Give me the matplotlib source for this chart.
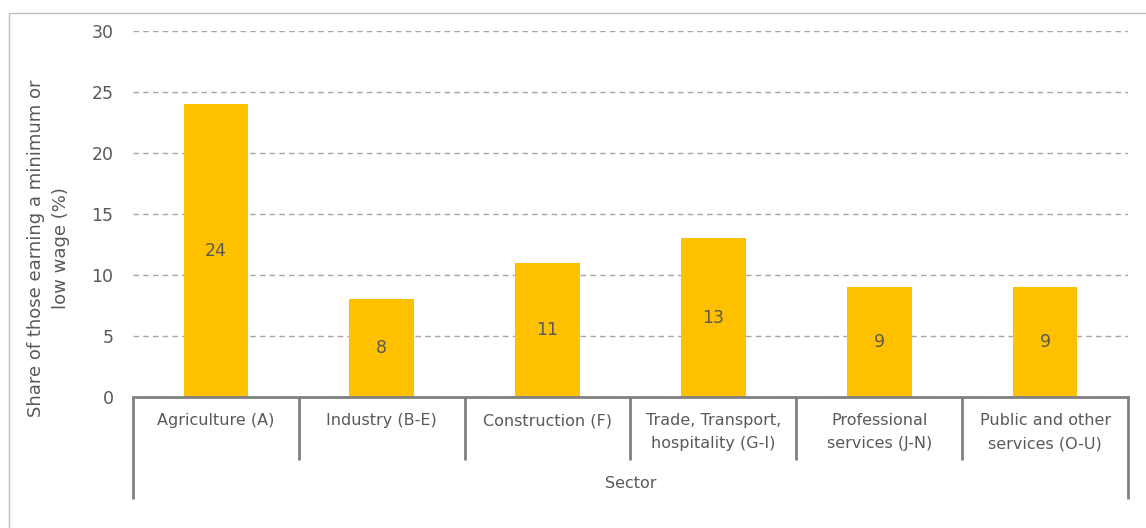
import matplotlib.pyplot as plt
import matplotlib.transforms as mtransforms
from matplotlib.patches import Rectangle

sectors = ["Agriculture (A)", "Industry (B-E)", "Construction (F)",
           "Trade, Transport,\nhospitality (G-I)", "Professional\nservices (J-N)",
           "Public and other\nservices (O-U)"]
shares = [24, 8, 11, 13, 9, 9]
y_ticks = [0, 5, 10, 15, 20, 25, 30]

text_col = "#595959"
line_col = "#808080"
bar_col = "#FFC000"

plt.rcParams["font.family"] = ["DejaVu Sans"]

fig = plt.figure(figsize=(11.46, 5.28), dpi=100)
W, H = 1146, 528

# light frame around the chart (open to the right and bottom, as cropped)
fig.add_artist(Rectangle((9 / W, -0.05), 1.1, 1.05 - 13 / H,
                         transform=fig.transFigure, fill=False,
                         edgecolor="#BFBFBF", linewidth=1))

ax = fig.add_axes([133 / W, 1 - 397 / H, (1128 - 133) / W, (397 - 31) / H])

x = list(range(len(sectors)))
ax.bar(x, shares, width=0.39, color=bar_col, zorder=3)
for xi, v in zip(x, shares):
    ax.text(xi, v / 2, str(v), ha="center", va="center", fontsize=12.5,
            color=text_col, zorder=4)

ax.set_xlim(-0.5, len(sectors) - 0.5)
ax.set_ylim(0, 30)
ax.set_yticks(y_ticks)
ax.set_yticklabels([str(t) for t in y_ticks], fontsize=12.5, color=text_col)
ax.tick_params(axis="y", length=0, pad=14)
ax.set_xticks([])
ax.yaxis.grid(True, linestyle=(0, (4, 3)), color="#A6A6A6", linewidth=1, zorder=0)
for s in ["top", "right", "left"]:
    ax.spines[s].set_visible(False)
ax.spines["bottom"].set_color(line_col)
ax.spines["bottom"].set_linewidth(2)
ax.spines["bottom"].set_zorder(5)

# category axis with separators
trans = mtransforms.blended_transform_factory(ax.transData, ax.transAxes)
axh = 397 - 31
for i in range(len(sectors) + 1):
    xe = i - 0.5
    low = -(499 - 397) / axh if i in (0, len(sectors)) else -(460 - 397) / axh
    ax.plot([xe, xe], [0, low], transform=trans, color=line_col, linewidth=2,
            clip_on=False, solid_capstyle="butt")

for xi, lab in zip(x, sectors):
    ax.text(xi, -(413 - 397) / axh, lab, transform=trans, ha="center", va="top",
            fontsize=11.5, color=text_col, linespacing=1.7)

ax.text(2.5, -(484 - 397) / axh, "Sector", transform=trans, ha="center",
        va="center", fontsize=11.5, color=text_col)

fig.text(49 / W, 1 - 248 / H, "Share of those earning a minimum or\nlow wage (%)",
         rotation=90, ha="center", va="center", fontsize=13, color=text_col,
         linespacing=1.5)

fig.savefig("out.png", dpi=100)
